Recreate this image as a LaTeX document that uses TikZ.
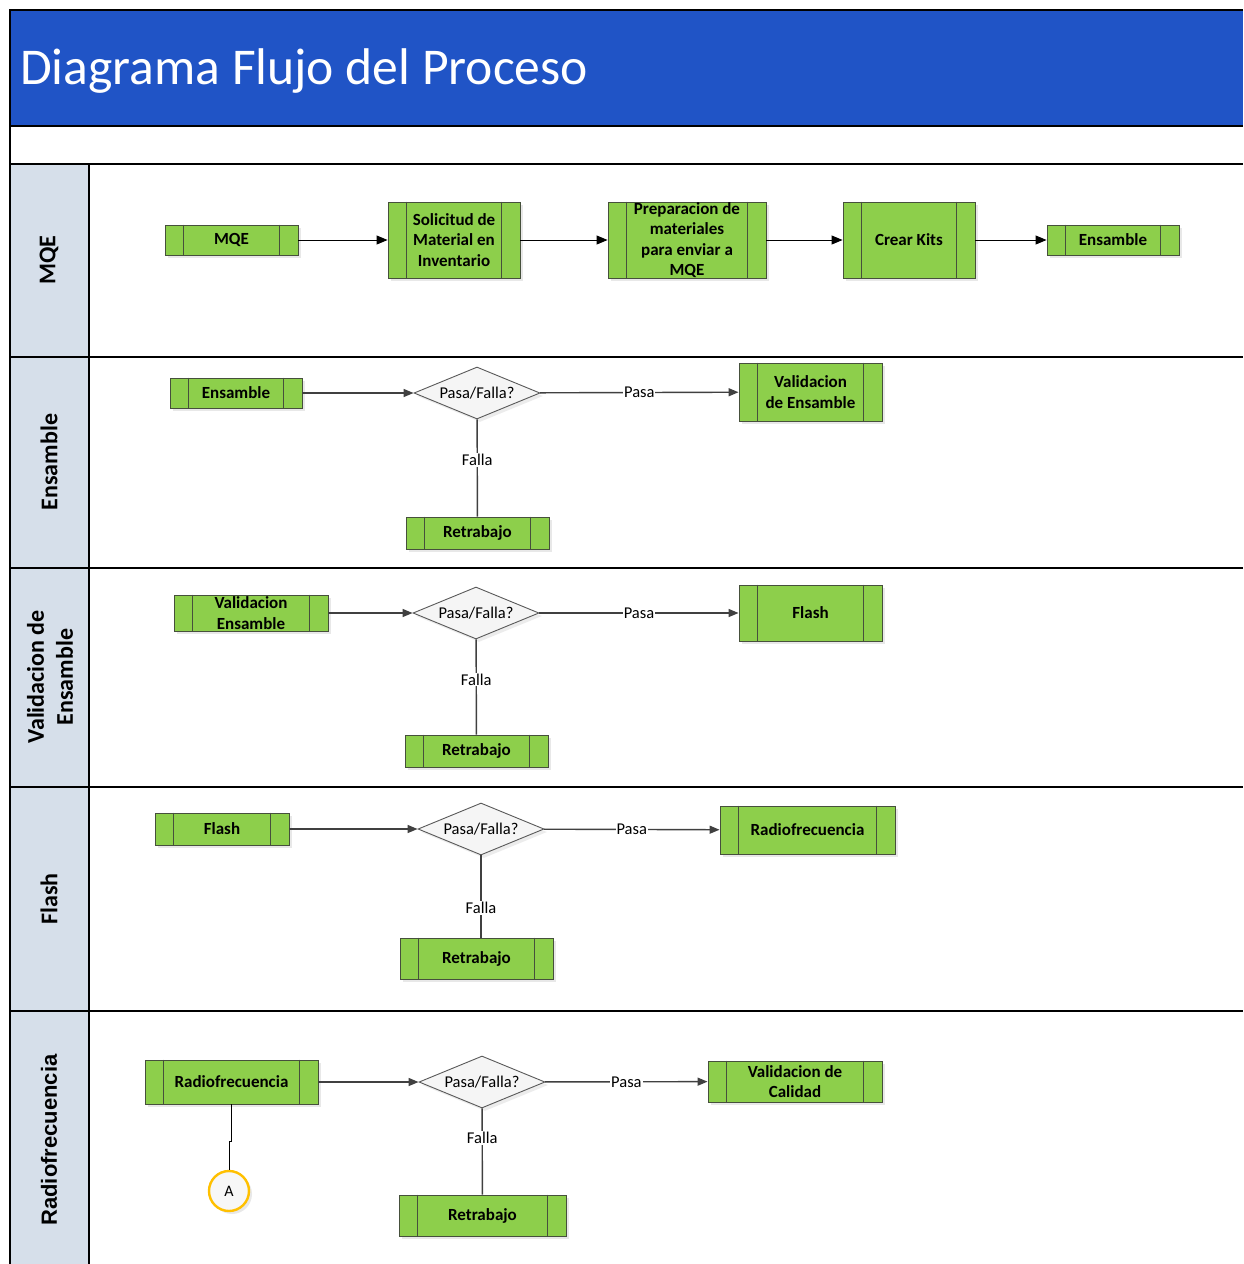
\documentclass[tikz,border=0pt]{standalone}
\usepackage{fontspec}
\setmainfont{Carlito}
\newfontfamily\arialfont{Liberation Sans}
\usetikzlibrary{calc,shapes.geometric,arrows.meta,shadows}

\definecolor{titleblue}{HTML}{2054C6}
\definecolor{lanegray}{HTML}{D6DFEA}
\definecolor{procgreen}{HTML}{8DCF4B}
\definecolor{procedge}{HTML}{46503C}
\definecolor{flowline}{HTML}{404040}
\definecolor{refgold}{HTML}{FFC000}

\tikzset{
  frameline/.style={draw=black, line width=1.6pt},
  procnode/.style={draw=procedge, fill=procgreen, line width=0.9pt, inner sep=0pt,
    align=center, font=\fontsize{17}{20.5}\selectfont\bfseries,
    drop shadow={opacity=0.18, shadow xshift=3pt, shadow yshift=-3pt}},
  procline/.style={draw=procedge, line width=0.9pt},
  decision/.style={diamond, aspect=2.45, draw=black!65, fill=black!4, line width=0.9pt, inner sep=0pt,
    minimum width=126pt, minimum height=52pt, font=\fontsize{16.5}{20}\selectfont,
    drop shadow={opacity=0.15, shadow xshift=3pt, shadow yshift=-3pt}},
  mainflow/.style={draw=black, line width=1pt, -{Triangle[length=11pt,width=9pt]}},
  flow/.style={draw=flowline, line width=1.4pt, -{Triangle[length=10pt,width=8pt]}},
  plainflow/.style={draw=flowline, line width=1.4pt},
  flowlabel/.style={fill=white, inner sep=1pt, font=\fontsize{16.5}{20}\selectfont},
  lanelabel/.style={rotate=90, align=center, font=\fontsize{24}{29}\selectfont\bfseries},
  connref/.style={circle, draw=refgold, line width=2.4pt, fill=black!3, minimum size=40pt,
    inner sep=0pt, font=\fontsize{16}{18}\selectfont,
    drop shadow={opacity=0.18, shadow xshift=3pt, shadow yshift=-3pt}}
}

% predefined-process box: name, x1, y1, x2, y2, side-bar offset, text
\newcommand\procbox[7]{%
  \node[procnode, minimum width={#4-#2}, minimum height={#5-#3}] (#1)
    at ({(#2+#4)/2},{(#3+#5)/2}) {#7};
  \draw[procline] ($(#1.north west)+(#6,0)$) -- ($(#1.south west)+(#6,0)$);
  \draw[procline] ($(#1.north east)+(-#6,0)$) -- ($(#1.south east)+(-#6,0)$);
}

\begin{document}
\begin{tikzpicture}[x=1pt,y=-1pt]
\useasboundingbox (0,0) rectangle (1243,1264);
\fill[white] (0,0) rectangle (1243,1264);

% title band
\fill[titleblue] (10,10) rectangle (1243,126);
\node[anchor=base west, text=white, inner sep=0pt, font=\fontsize{51.6}{60}\selectfont]
  (title) at (20,84) {Diagrama Flujo del Proceso};

% lane header column
\fill[lanegray] (10,164) rectangle (89,1264);

% frame and lane separators
\draw[frameline] (1243,10) -- (10,10) -- (10,1264);
\draw[frameline] (10,126) -- (1243,126);
\draw[frameline] (10,164) -- (1243,164);
\draw[frameline] (10,357) -- (1243,357);
\draw[frameline] (10,568) -- (1243,568);
\draw[frameline] (10,787) -- (1243,787);
\draw[frameline] (10,1011) -- (1243,1011);
\draw[frameline] (89,164) -- (89,1264);

% lane names
\node[lanelabel] (lmqe) at (49,260) {MQE};
\node[lanelabel] (lens) at (49,462) {Ensamble};
\node[lanelabel] (lval) at (50,677) {Validacion de\\Ensamble};
\node[lanelabel] (lfla) at (49,899) {Flash};
\node[lanelabel, font=\arialfont\fontsize{22}{26}\selectfont\bfseries] (lrf) at (49,1140) {Radiofrecuencia};

% ---- lane MQE
\procbox{m1}{165}{225}{298}{255}{19}{MQE}
\procbox{m2}{388}{202}{520}{278}{19}{Solicitud de\\Material en\\Inventario}
\procbox{m3}{608}{202}{766}{278}{19}{Preparacion de\\materiales\\para enviar a\\MQE}
\procbox{m4}{843}{202}{975}{278}{19}{Crear Kits}
\procbox{m5}{1047}{225}{1179}{255}{19}{Ensamble}
\draw[mainflow] (m1) -- (m2);
\draw[mainflow] (m2) -- (m3);
\draw[mainflow] (m3) -- (m4);
\draw[mainflow] (m4) -- (m5);

% ---- lane Ensamble
\procbox{e1}{170}{378}{302}{408}{19}{Ensamble}
\node[decision] (e2) at (477,393) {Pasa/Falla?};
\procbox{e3}{739}{363}{882}{421}{19}{Validacion\\de Ensamble}
\procbox{e4}{406}{517}{549}{549}{19}{Retrabajo}
\draw[flow] (e1) -- (e2);
\draw[flow] (e2) -- node[flowlabel, pos=0.5] {Pasa} (e3);
\draw[plainflow] (e2) -- node[flowlabel, pos=0.42] {Falla} (e4);

% ---- lane Validacion de Ensamble
\procbox{v1}{174}{595}{328}{631}{19}{Validacion\\Ensamble}
\node[decision] (v2) at (476,613) {Pasa/Falla?};
\procbox{v3}{739}{585}{882}{641}{19}{Flash}
\procbox{v4}{405}{735}{548}{767}{19}{Retrabajo}
\draw[flow] (v1) -- (v2);
\draw[flow] (v2) -- node[flowlabel, pos=0.5] {Pasa} (v3);
\draw[plainflow] (v2) -- node[flowlabel, pos=0.42] {Falla} (v4);

% ---- lane Flash
\procbox{f1}{155}{813}{289}{845}{19}{Flash}
\node[decision] (f2) at (481,829) {Pasa/Falla?};
\procbox{f3}{720}{806}{895}{854}{19}{Radiofrecuencia}
\procbox{f4}{400}{938}{553}{979}{19}{Retrabajo}
\draw[flow] (f1) -- (f2);
\draw[flow] (f2) -- node[flowlabel, pos=0.5] {Pasa} (f3);
\draw[plainflow] (f2.south) -- node[flowlabel, pos=0.64] {Falla} (f2.south |- f4.north);

% ---- lane Radiofrecuencia
\procbox{r1}{145}{1060}{318}{1104}{19}{Radiofrecuencia}
\node[decision] (r2) at (482,1082) {Pasa/Falla?};
\procbox{r3}{708}{1061}{882}{1102}{19}{Validacion de\\Calidad}
\procbox{r4}{399}{1195}{566}{1236}{19}{Retrabajo}
\node[connref] (ra) at (229,1191) {A};
\draw[flow] (r1) -- (r2);
\draw[flow] (r2) -- node[flowlabel, pos=0.5] {Pasa} (r3);
\draw[plainflow] (r2) -- node[flowlabel, pos=0.34] {Falla} (r4);
\draw[draw=black, line width=1pt] (r1.south) -- ++(0,37) -| (ra.north);

\end{tikzpicture}
\end{document}
